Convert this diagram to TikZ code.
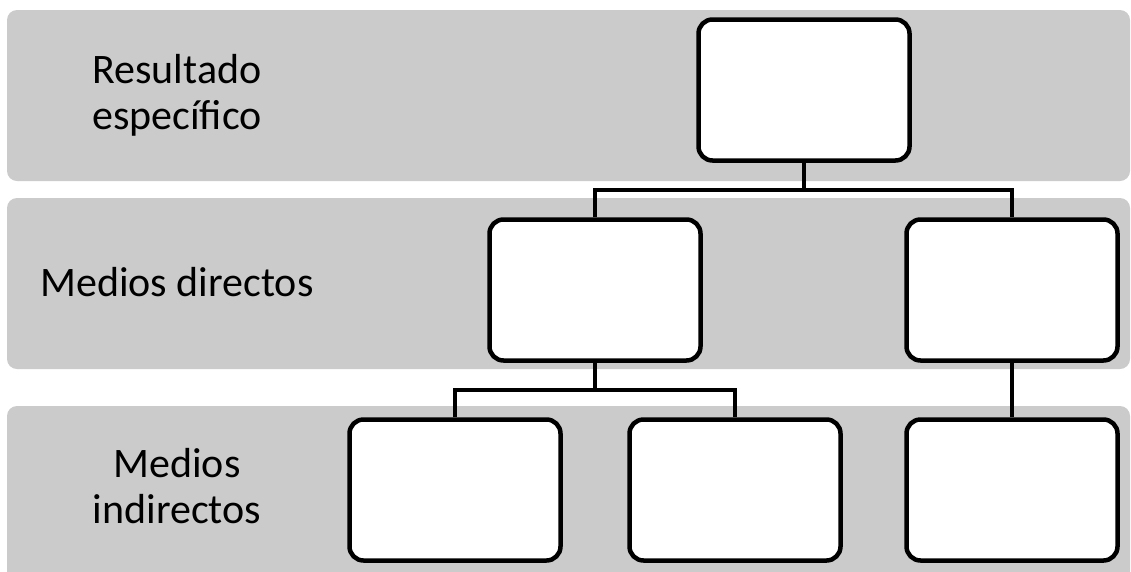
\documentclass[tikz,border=0pt]{standalone}
\usepackage{fontspec}
\setmainfont{Carlito}
\definecolor{bandgrau}{RGB}{203,203,203}
\begin{document}
\begin{tikzpicture}[x=1pt, y=1pt,
	band/.style={fill=bandgrau, rounded corners=10pt},
	kasten/.style={draw, fill=white, line width=4.5pt, rounded corners=14pt, minimum width=211pt, minimum height=141pt, inner sep=0pt},
	verbindung/.style={line width=4.5pt},
	ebene/.style={font=\fontsize{42}{46}\selectfont, align=center}]

	\useasboundingbox (0,0) rectangle (1131,-571);
	% Ebenen
	\fill[band] (7,-10) rectangle (1130,-181);
	\fill[band] (7,-198) rectangle (1130,-369);
	\fill[band] (7,-406) rectangle (1130,-600);
	% Beschriftung
	\node[ebene] (resultadotext) at (177,-95) {Resultado\\específico};
	\node[ebene, anchor=base west, inner sep=0pt] (directostext) at (40,-296) {Medios directos};
	\node[ebene] (indirectostext) at (177,-486) {Medios\\indirectos};
	% Kaesten
	\node[kasten] (resultado) at (804,-90) {};
	\node[kasten] (directo1) at (595,-290) {};
	\node[kasten] (directo2) at (1012,-290) {};
	\node[kasten] (indirecto1) at (455,-490) {};
	\node[kasten] (indirecto2) at (735,-490) {};
	\node[kasten] (indirecto3) at (1012,-490) {};
	% Verbindungen
	\coordinate (verteiler1) at (804,-190);
	\coordinate (verteiler2) at (595,-390);
	\draw[verbindung] (resultado.south) -- (verteiler1);
	\draw[verbindung] (directo1.north) |- (verteiler1) -| (directo2.north);
	\draw[verbindung] (directo1.south) -- (verteiler2);
	\draw[verbindung] (indirecto1.north) |- (verteiler2) -| (indirecto2.north);
	\draw[verbindung] (directo2.south) -- (indirecto3.north);
\end{tikzpicture}
\end{document}
